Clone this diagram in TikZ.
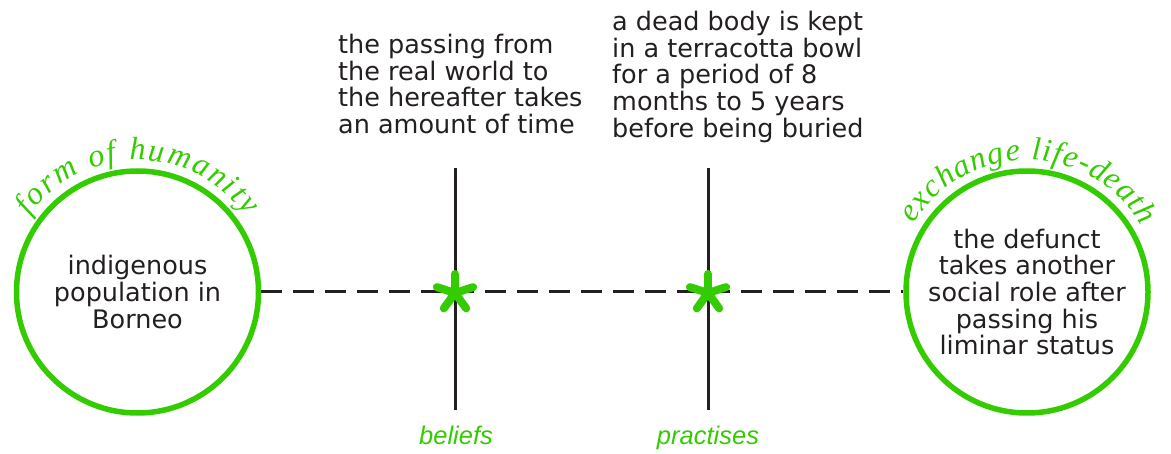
\documentclass[tikz,border=0pt]{standalone}
\usepackage{fontspec}
\setmainfont{DejaVu Sans}
\newfontfamily\arcfont{Liberation Serif}
\newfontfamily\tagfont{Liberation Sans}
\usetikzlibrary{decorations.text,calc}
\definecolor{lifegreen}{RGB}{51,204,0}
\definecolor{inkgray}{RGB}{35,31,32}

\begin{document}
\begin{tikzpicture}[x=1pt, y=1pt,
  ring/.style={circle, draw=lifegreen, line width=5.5pt, minimum size=242pt, inner sep=0pt, align=center, text=inkgray, font=\fontsize{25.5}{26.7}\selectfont},
  note/.style={anchor=north west, inner sep=0pt, align=left, text=inkgray, font=\fontsize{25.5}{26.7}\selectfont},
  crossline/.style={draw=inkgray, line width=3pt},
  burst/.style={draw=lifegreen, line width=8pt, line cap=round},
  tag/.style={anchor=base, inner sep=0pt, text=lifegreen, font=\tagfont\itshape\fontsize{25.5}{25.5}\selectfont}]
  \useasboundingbox (0,0) rectangle (1171,-454);

  % the two ends
  \node[ring] (human) at (137.5,-292) {indigenous\\population in\\Borneo};
  \node[ring] (exchange) at (1027,-292) {the defunct\\takes another\\social role after\\passing his\\liminar status};

  % texts above the crossings
  \node[note] (passing) at (338,-34) {the passing from\\the real world to\\the hereafter takes\\an amount of time};
  \node[note] (bowl) at (612,-11) {a dead body is kept\\in a terracotta bowl\\for a period of 8\\months to 5 years\\before being buried};

  % crossings
  \coordinate (bel-top) at (455,-168);
  \coordinate (bel-bot) at (455,-410);
  \coordinate (pra-top) at (708,-168);
  \coordinate (pra-bot) at (708,-410);
  \coordinate (bel) at (455,-293);
  \coordinate (pra) at (708,-293);
  \draw[crossline] (bel-top) -- (bel-bot);
  \draw[crossline] (pra-top) -- (pra-bot);
  \draw[crossline, dash pattern=on 21pt off 11pt] (human) -- (exchange);
  \foreach \spot in {bel,pra}
    \foreach \a in {18,90,162,234,306}
      \draw[burst] (\spot) -- ++(\a:19);

  \node[tag] (beliefs) at (456,-445) {beliefs};
  \node[tag] (practises) at (708,-445) {practises};

  % curved titles
  \path[decorate, decoration={text along path, text color=lifegreen, text align={fit to path},
      text={|\arcfont\itshape\fontsize{32}{32}\selectfont|form of humanity}}]
    ($(human.center)+(145:132)$) arc[start angle=145, end angle=35, radius=132];
  \path[decorate, decoration={text along path, text color=lifegreen, text align={fit to path},
      text={|\arcfont\itshape\fontsize{32}{32}\selectfont|exchange life-death}}]
    ($(exchange.center)+(149:132)$) arc[start angle=149, end angle=30, radius=132];
\end{tikzpicture}
\end{document}
